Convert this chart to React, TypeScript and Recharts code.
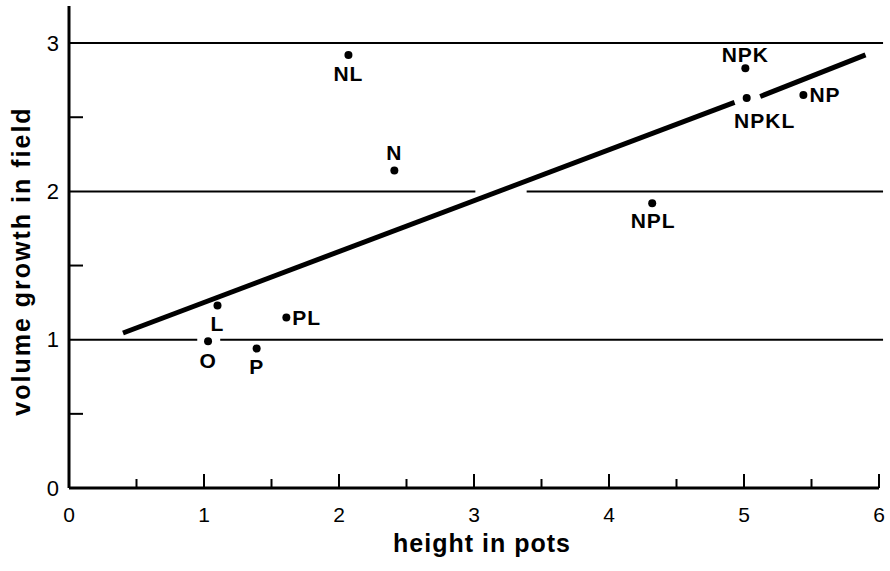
import { ScatterChart, Scatter, XAxis, YAxis, ReferenceLine } from "recharts";

// fertiliser treatments
const treatments = ["O", "L", "P", "PL", "NL", "N", "NPL", "NPK", "NPKL", "NP"];
const heightInPots = [1.03, 1.1, 1.39, 1.61, 2.07, 2.41, 4.32, 5.01, 5.02, 5.44];
const volumeGrowth = [0.99, 1.23, 0.94, 1.15, 2.92, 2.14, 1.92, 2.83, 2.63, 2.65];

// fitted line, drawn in two pieces (broken round NPKL)
const fitX = [0.4, 4.93, 5.12, 5.9];
const fitY = [1.045, 2.6, 2.64, 2.92];

// horizontal rules at 1, 2, 3 with the gaps of the original
const ruleY = [1, 1, 2, 2, 3];
const ruleFrom = [0, 1.12, 0, 3.39, 0];
const ruleTo = [0.95, 6.03, 3.01, 6.03, 6.03];

const xTicks = [0, 0.5, 1, 1.5, 2, 2.5, 3, 3.5, 4, 4.5, 5, 5.5, 6];
const yTicks = [0, 0.5, 1, 1.5, 2, 2.5, 3];

const points = treatments.map((name, i) => ({ name, x: heightInPots[i], y: volumeGrowth[i] }));

// where each label sits relative to its dot
const labelPlace: Record<string, { dx: number; dy: number; anchor: "middle" | "start" }> = {
  O: { dx: 0, dy: 19, anchor: "middle" },
  L: { dx: 0, dy: 18, anchor: "middle" },
  P: { dx: 0, dy: 18, anchor: "middle" },
  PL: { dx: 6, dy: 0, anchor: "start" },
  NL: { dx: 0, dy: 19, anchor: "middle" },
  N: { dx: 0, dy: -18, anchor: "middle" },
  NPL: { dx: 1, dy: 17, anchor: "middle" },
  NPK: { dx: 0, dy: -14, anchor: "middle" },
  NPKL: { dx: 18, dy: 23, anchor: "middle" },
  NP: { dx: 6, dy: 0, anchor: "start" },
};

const FONT = "'Liberation Sans', Arial, sans-serif";

const PointShape = (props: any) => {
  const { cx, cy, payload } = props;
  const p = labelPlace[payload.name];
  return (
    <g>
      <circle cx={cx} cy={cy} r={4} fill="#000" />
      <text
        x={cx + p.dx}
        y={cy + p.dy}
        textAnchor={p.anchor}
        dominantBaseline="central"
        fontFamily={FONT}
        fontWeight="bold"
        fontSize={21}
        letterSpacing={1}
        fill="#000"
      >
        {payload.name}
      </text>
    </g>
  );
};

const XTick = (props: any) => {
  const { x, y, payload } = props;
  const v = payload.value;
  const major = Number.isInteger(v);
  return (
    <g>
      {v !== 0 && <line x1={x} x2={x} y1={y} y2={y - (major ? 14 : 9)} stroke="#000" strokeWidth={2} />}
      {major && (
        <text x={x} y={y + 26} textAnchor="middle" dominantBaseline="central" fontFamily={FONT} fontSize={21} fill="#000">
          {v}
        </text>
      )}
    </g>
  );
};

const YTick = (props: any) => {
  const { x, y, payload } = props;
  const v = payload.value;
  const major = Number.isInteger(v);
  return (
    <g>
      {!major && <line x1={x} x2={x + 14} y1={y} y2={y} stroke="#000" strokeWidth={2} />}
      {major && (
        <text x={x - 10} y={y} textAnchor="end" dominantBaseline="central" fontFamily={FONT} fontSize={22} fill="#000">
          {v}
        </text>
      )}
    </g>
  );
};

export default function App() {
  return (
    <div style={{ position: "absolute", left: 0, top: 0, background: "#fff" }}>
      <ScatterChart width={890} height={571} margin={{ top: 6, right: 11, bottom: 0, left: 0 }}>
        <XAxis
          type="number"
          dataKey="x"
          domain={[0, 6]}
          ticks={xTicks}
          interval={0}
          height={83}
          tickSize={0}
          tickMargin={0}
          tickLine={false}
          tick={<XTick />}
          axisLine={{ stroke: "#000", strokeWidth: 3 }}
          label={{
            content: ({ viewBox }: any) => (
              <text
                x={viewBox.x + viewBox.width / 2 + 8}
                y={viewBox.y + 64}
                textAnchor="middle"
                fontFamily={FONT}
                fontWeight="bold"
                fontSize={25}
                letterSpacing={1}
                fill="#000"
              >
                height in pots
              </text>
            ),
          }}
        />
        <YAxis
          type="number"
          dataKey="y"
          domain={[0, 3.25]}
          ticks={yTicks}
          interval={0}
          width={69}
          tickSize={0}
          tickMargin={0}
          tickLine={false}
          tick={<YTick />}
          axisLine={{ stroke: "#000", strokeWidth: 3 }}
          label={{
            content: ({ viewBox }: any) => {
              const cy = viewBox.y + viewBox.height / 2 + 14;
              return (
                <text
                  x={30}
                  y={cy}
                  transform={`rotate(-90, 30, ${cy})`}
                  textAnchor="middle"
                  fontFamily={FONT}
                  fontWeight="bold"
                  fontSize={25}
                  letterSpacing={2}
                  fill="#000"
                >
                  volume growth in field
                </text>
              );
            },
          }}
        />
        {ruleY.map((y, i) => (
          <ReferenceLine
            key={`rule-${i}`}
            segment={[
              { x: ruleFrom[i], y },
              { x: ruleTo[i], y },
            ]}
            stroke="#000"
            strokeWidth={2}
            ifOverflow="visible"
          />
        ))}
        {[0, 2].map((i) => (
          <ReferenceLine
            key={`fit-${i}`}
            segment={[
              { x: fitX[i], y: fitY[i] },
              { x: fitX[i + 1], y: fitY[i + 1] },
            ]}
            stroke="#000"
            strokeWidth={5}
            ifOverflow="visible"
          />
        ))}
        <Scatter data={points} shape={<PointShape />} isAnimationActive={false} />
      </ScatterChart>
    </div>
  );
}
